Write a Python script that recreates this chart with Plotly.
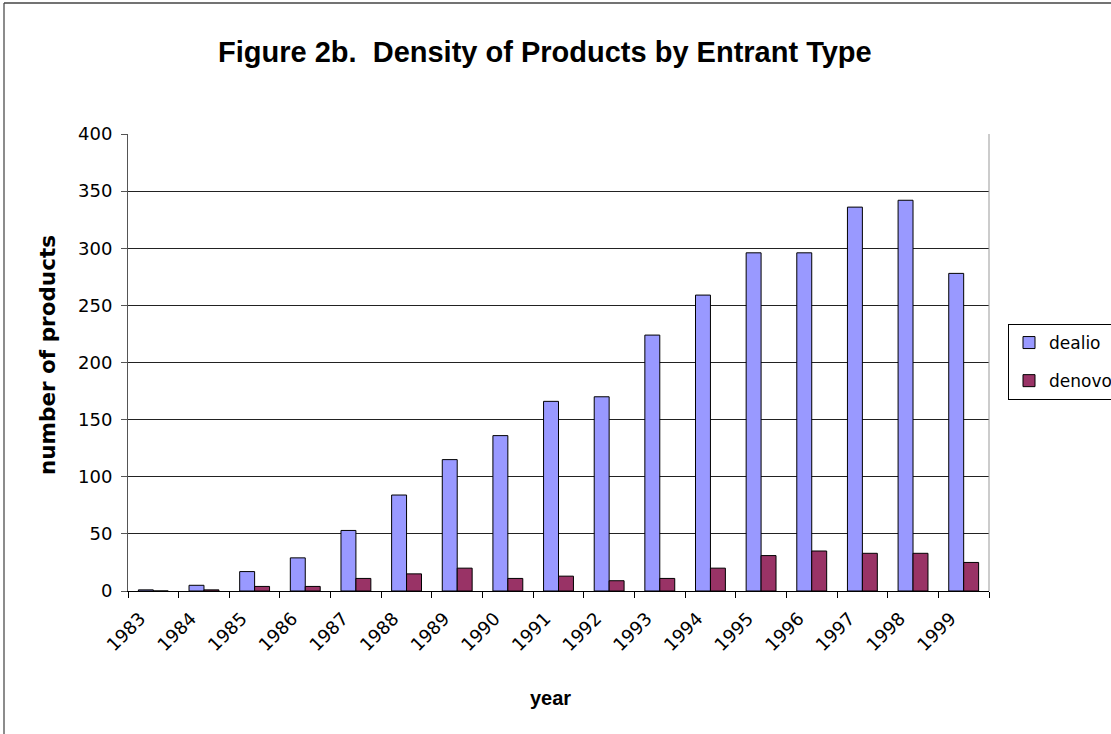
import plotly.graph_objects as go

years = ["1983", "1984", "1985", "1986", "1987", "1988", "1989", "1990", "1991",
         "1992", "1993", "1994", "1995", "1996", "1997", "1998", "1999"]
dealio = [1, 5, 17, 29, 53, 84, 115, 136, 166, 170, 224, 259, 296, 296, 336, 342, 278]
denovo = [0, 1, 4, 4, 11, 15, 20, 11, 13, 9, 11, 20, 31, 35, 33, 33, 25]

W, H = 1111, 734
L, R, T, B = 128, 989, 134, 591  # plot area in px


def px_x(p):
    return (p - L) / (R - L)


def px_y(p):
    return (B - p) / (B - T)


fig = go.Figure()
fig.add_trace(go.Bar(x=years, y=dealio, name="dealio", legendgroup="a",
                     marker=dict(color="#9999FF", line=dict(color="#000000", width=1))))
fig.add_trace(go.Bar(x=years, y=denovo, name="denovo", legendgroup="b",
                     marker=dict(color="#993366", line=dict(color="#000000", width=1))))

fig.update_layout(
    width=W, height=H,
    margin=dict(l=L, r=W - R, t=T, b=H - B, autoexpand=False),
    paper_bgcolor="white", plot_bgcolor="white",
    barmode="group", bargap=0.41, bargroupgap=0,
    font=dict(family="DejaVu Sans", size=18, color="#000000"),
    showlegend=True,
    legend=dict(x=px_x(1008), y=px_y(324), xanchor="left", yanchor="top",
                bordercolor="#000000", borderwidth=1, bgcolor="white",
                font=dict(family="DejaVu Sans", size=17),
                traceorder="grouped", tracegroupgap=13),
    xaxis=dict(type="category", showline=True, linecolor="#000000", linewidth=1,
               ticks="outside", tickson="boundaries", ticklen=6, tickcolor="#000000",
               tickangle=-45, showgrid=False, ticklabelshift=-13, ticklabelstandoff=9,
               tickfont=dict(family="DejaVu Sans", size=18)),
    yaxis=dict(range=[0, 400], dtick=50, showline=True, linecolor="#555555", linewidth=1,
               ticks="outside", ticklen=6, tickcolor="#555555", ticklabelstandoff=5,
               showgrid=True, gridcolor="#222222", gridwidth=1, zeroline=False,
               tickfont=dict(family="DejaVu Sans", size=18)),
    annotations=[
        dict(text="<b>Figure 2b.  Density of Products by Entrant Type</b>",
             xref="paper", yref="paper", x=px_x(545), y=px_y(52),
             xanchor="center", yanchor="middle", showarrow=False,
             font=dict(family="Liberation Sans", size=29)),
        dict(text="<b>number of products</b>", xref="paper", yref="paper",
             x=px_x(47), y=px_y(355), xanchor="center", yanchor="middle",
             textangle=-90, showarrow=False,
             font=dict(family="DejaVu Sans", size=21.5)),
        dict(text="<b>year</b>", xref="paper", yref="paper",
             x=px_x(550), y=px_y(698), xanchor="center", yanchor="middle",
             showarrow=False, font=dict(family="Liberation Sans", size=20)),
    ],
    shapes=[
        # right border of plot area
        dict(type="line", xref="paper", yref="paper", x0=1, x1=1, y0=0, y1=1,
             line=dict(color="#999999", width=1)),
        # outer chart border (left and top)
        dict(type="line", xref="paper", yref="paper", x0=px_x(4), x1=px_x(4),
             y0=px_y(3), y1=px_y(740), line=dict(color="#666666", width=1.5)),
        dict(type="line", xref="paper", yref="paper", x0=px_x(4), x1=px_x(1115),
             y0=px_y(3), y1=px_y(3), line=dict(color="#444444", width=1.5)),
    ],
)

fig.write_html("out.html", config={"displayModeBar": False},
               post_script="document.body.style.margin='0px';")
